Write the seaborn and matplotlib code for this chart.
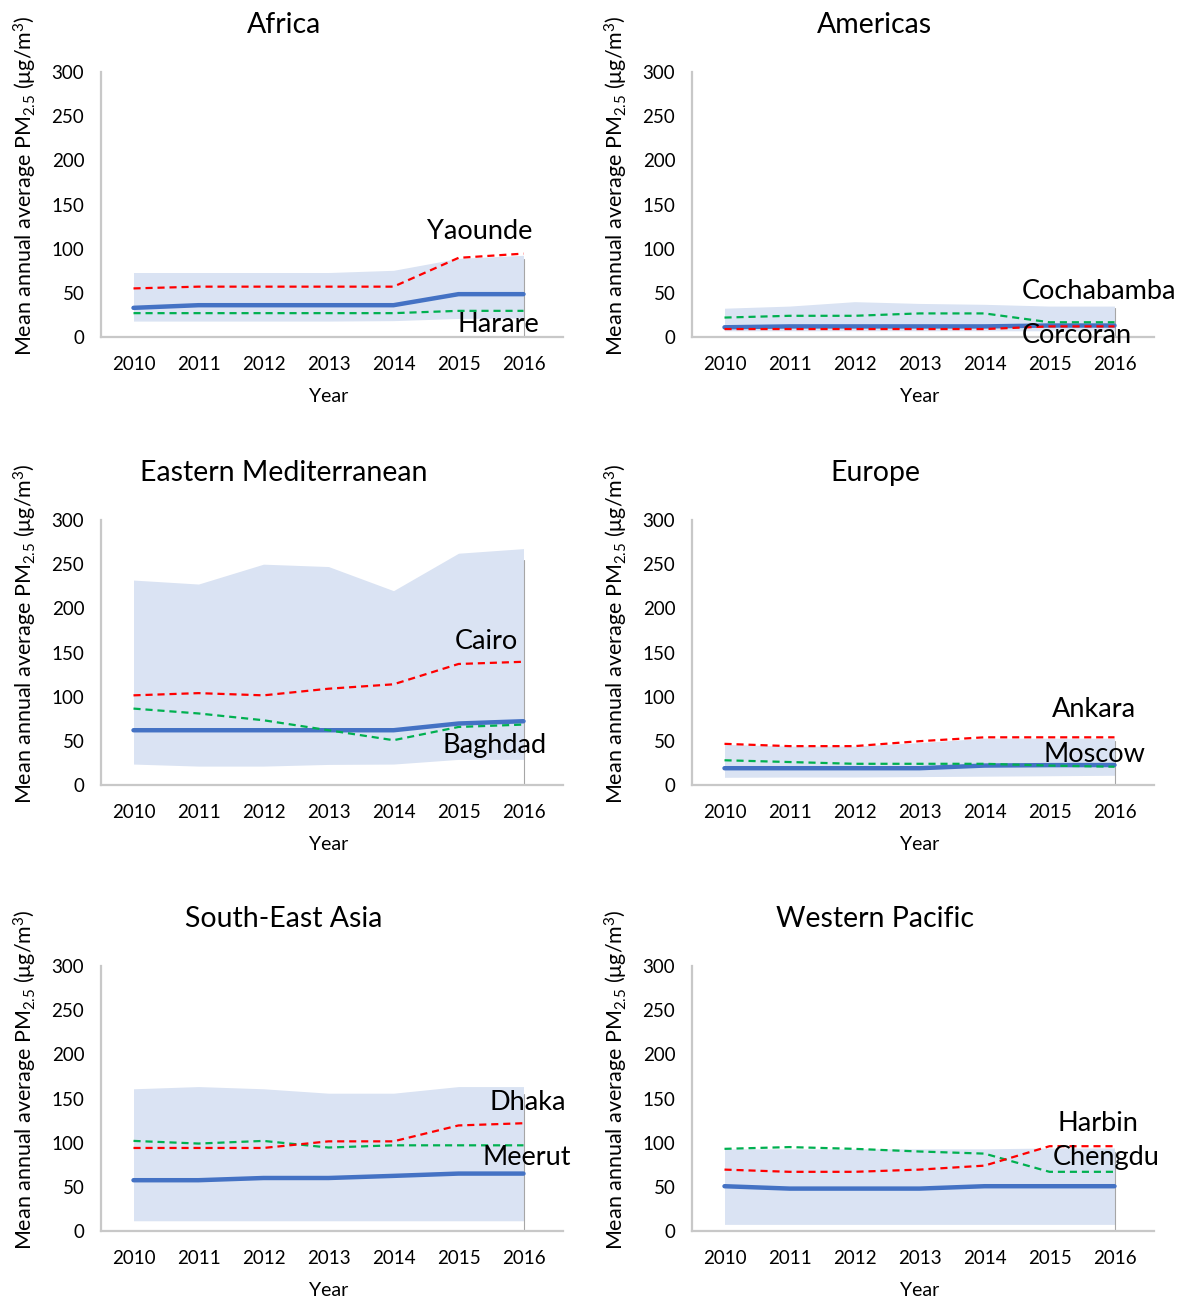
import numpy as np
import pandas as pd
import matplotlib
matplotlib.use("Agg")
import matplotlib.pyplot as plt
import seaborn as sns

# Data
years = [2010, 2011, 2012, 2013, 2014, 2015, 2016]
regions = ["Africa", "Americas", "Eastern Mediterranean", "Europe",
           "South-East Asia", "Western Pacific"]

# min-max band per region
band_low = {
    "Africa": [18, 18, 18, 18, 18.5, 21, 21.5],
    "Americas": [7, 7, 7, 7, 7, 7, 7],
    "Eastern Mediterranean": [23.7, 21.4, 21.4, 23.3, 23.7, 29, 29],
    "Europe": [8.7, 9, 9, 9.5, 10, 10.5, 11],
    "South-East Asia": [11.6, 11.6, 11.6, 11.6, 11.6, 11.6, 11.6],
    "Western Pacific": [7.5, 7.5, 7.5, 7.5, 7.5, 7.5, 7.5],
}
band_high = {
    "Africa": [73, 73, 73, 73, 75.5, 89, 92.5],
    "Americas": [32.6, 35, 40, 38, 37, 35, 35],
    "Eastern Mediterranean": [232, 227.5, 250, 247.3, 220, 262.4, 267.6],
    "Europe": [46, 44, 44, 48, 53, 53, 53],
    "South-East Asia": [161, 163.5, 161, 156, 156, 163.5, 163.5],
    "Western Pacific": [93, 93, 93, 93, 93, 94, 94],
}
# regional mean (blue)
region_mean = {
    "Africa": [33, 36, 36, 36, 36, 48.5, 48.5],
    "Americas": [11, 12, 12, 12, 12, 13, 13],
    "Eastern Mediterranean": [62, 62, 62, 62, 62, 69.6, 72.2],
    "Europe": [19, 19, 19, 19, 22, 22.5, 22.6],
    "South-East Asia": [57.5, 57.5, 60, 60, 62.4, 65, 65],
    "Western Pacific": [50.7, 48, 48, 48, 50.7, 50.7, 50.7],
}
# highlighted cities: (name, values)
red_city = {
    "Africa": ("Yaounde", [55, 57, 57, 57, 57, 89.6, 94.4]),
    "Americas": ("Corcoran", [9, 9, 9, 9, 9, 12, 12]),
    "Eastern Mediterranean": ("Cairo", [101.5, 104, 101.5, 109, 114, 137, 139.5]),
    "Europe": ("Ankara", [46.6, 44, 44, 49.6, 54, 54, 54]),
    "South-East Asia": ("Dhaka", [94, 94, 94, 101.5, 101.5, 119.5, 122]),
    "Western Pacific": ("Harbin", [69.5, 67, 67, 69.5, 74, 96, 96]),
}
green_city = {
    "Africa": ("Harare", [27, 27, 27, 27, 27, 29.6, 29.6]),
    "Americas": ("Cochabamba", [22, 24, 24, 26.7, 26.7, 16.7, 16.7]),
    "Eastern Mediterranean": ("Baghdad", [86.5, 81, 73.3, 62, 50.7, 65.7, 68.4]),
    "Europe": ("Moscow", [28, 26, 24, 24, 24, 22, 20.7]),
    "South-East Asia": ("Meerut", [102, 99, 102, 94.5, 97, 97, 97]),
    "Western Pacific": ("Chengdu", [93, 95, 93, 90, 87.6, 67, 67]),
}
# label anchor (x index, value) for the city names
red_label_pos = {
    "Africa": (5.32, 120), "Americas": (5.42, 2),
    "Eastern Mediterranean": (5.43, 163), "Europe": (5.68, 85),
    "South-East Asia": (6.06, 145), "Western Pacific": (5.75, 122),
}
green_label_pos = {
    "Africa": (5.61, 14.7), "Americas": (5.76, 52),
    "Eastern Mediterranean": (5.55, 45), "Europe": (5.69, 34),
    "South-East Asia": (6.05, 83), "Western Pacific": (5.87, 83),
}

sns.set_style("white")
plt.rcParams["font.family"] = ["Lato", "DejaVu Sans"]
plt.rcParams["mathtext.fontset"] = "custom"
plt.rcParams["mathtext.rm"] = "Lato"
plt.rcParams["mathtext.it"] = "Lato"
plt.rcParams["text.color"] = "black"
plt.rcParams["xtick.color"] = "black"
plt.rcParams["ytick.color"] = "black"
plt.rcParams["axes.labelcolor"] = "black"

W, H = 1177, 1299
fig = plt.figure(figsize=(W / 100, H / 100), dpi=100)

col_left = [101, 692]
row_bottom = [337, 785, 1231]
ax_w, ax_h = 455, 265

idx = np.arange(len(years))

for i, reg in enumerate(regions):
    r, c = divmod(i, 2)
    left = col_left[c] / W
    bottom = 1 - row_bottom[r] / H
    ax = fig.add_axes([left, bottom, ax_w / W, ax_h / H])

    ax.fill_between(idx, band_low[reg], band_high[reg], color="#dae3f3", lw=0, zorder=1)
    ax.plot([idx[-1], idx[-1]], [0, band_high[reg][-1] * 0.95], color="#a6a6a6", lw=0.8, zorder=1.5)

    df = pd.DataFrame({
        "idx": np.concatenate([idx, idx, idx]),
        "value": region_mean[reg] + red_city[reg][1] + green_city[reg][1],
        "series": ["mean"] * 7 + ["red"] * 7 + ["green"] * 7,
    })
    sns.lineplot(data=df[df.series == "green"], x="idx", y="value", color="#00b050",
                 lw=1.6, ax=ax, zorder=3).lines[-1].set_dashes([3.2, 2.2])
    sns.lineplot(data=df[df.series == "red"], x="idx", y="value", color="#ff0000",
                 lw=1.6, ax=ax, zorder=3).lines[-1].set_dashes([3.2, 2.2])
    sns.lineplot(data=df[df.series == "mean"], x="idx", y="value", color="#4472c4",
                 lw=3.2, ax=ax, zorder=2.5)

    rx, ry = red_label_pos[reg]
    gx, gy = green_label_pos[reg]
    ax.text(rx, ry, red_city[reg][0], ha="center", va="center", fontsize=19.5, zorder=5)
    ax.text(gx, gy, green_city[reg][0], ha="center", va="center", fontsize=19.5, zorder=5)

    ax.set_xlim(-0.5, 6.5)
    ax.set_ylim(0, 300)
    ax.set_xticks(idx)
    ax.set_xticklabels([str(y) for y in years])
    ax.set_yticks([0, 50, 100, 150, 200, 250, 300])
    ax.tick_params(axis="both", length=0, labelsize=13.5)
    ax.tick_params(axis="y", pad=12)
    ax.tick_params(axis="x", pad=14)
    for s in ["top", "right"]:
        ax.spines[s].set_visible(False)
    for s in ["left", "bottom"]:
        ax.spines[s].set_color("#c8c8c8")
        ax.spines[s].set_linewidth(1.6)
    ax.spines["bottom"].set_bounds(-0.5, 6.6)

    ax.set_xlabel("Year", fontsize=14)
    ax.xaxis.label.set_va("center")
    ax.xaxis.set_label_coords(0.5, -0.226)
    ax.set_ylabel("Mean annual average PM$_{2.5}$ (μg/m$^3$)", fontsize=15.5)
    ax.yaxis.label.set_va("center")
    ax.yaxis.set_label_coords(-0.167, 0.57)
    ax.text(0.402, 1.177, reg, transform=ax.transAxes, ha="center", va="center",
            fontsize=20.5)
    ax.patch.set_alpha(0)

fig.savefig("out.png", dpi=100)
